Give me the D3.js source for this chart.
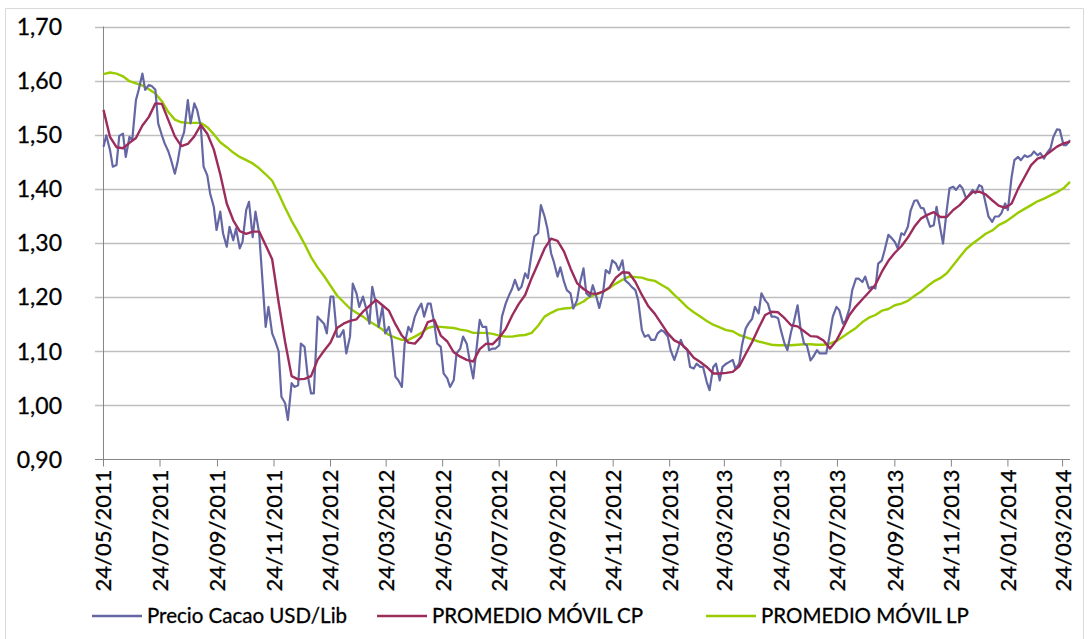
<!DOCTYPE html>
<html>
<head>
<meta charset="utf-8">
<script src="https://cdn.jsdelivr.net/npm/d3@7"></script>
<style>
  body { margin: 0; background: #fff; }
  svg { display: block; }
  text { font-family: Lato, "Liberation Sans", sans-serif; fill: #000; stroke: #000; stroke-width: 0.3px; }
</style>
</head>
<body>
<svg id="chart" width="1089" height="639"></svg>
<script>
// ---- data -------------------------------------------------------------
const seriesNames = ["Precio Cacao USD/Lib", "PROMEDIO MÓVIL CP", "PROMEDIO MÓVIL LP"];
const seriesColors = ["#6467a3", "#9c2c5c", "#99cc00"];

// x-axis tick labels (every two months)
const tickLabels = [
  "24/05/2011", "24/07/2011", "24/09/2011", "24/11/2011", "24/01/2012", "24/03/2012",
  "24/05/2012", "24/07/2012", "24/09/2012", "24/11/2012", "24/01/2013", "24/03/2013",
  "24/05/2013", "24/07/2013", "24/09/2013", "24/11/2013", "24/01/2014", "24/03/2014"
];

// y-axis tick values
const yTicks = [0.90, 1.00, 1.10, 1.20, 1.30, 1.40, 1.50, 1.60, 1.70];

const firstDay = "24/05/2011";
const lastDay = "01/04/2014";

// cocoa price, USD/lb, Tuesday and Friday quotes from 24/05/2011
const priceValues = [
  1.478, 1.499, 1.472, 1.441, 1.444, 1.498, 1.502, 1.459, 1.496, 1.490,
  1.564, 1.583, 1.613, 1.583, 1.592, 1.590, 1.583, 1.521, 1.499, 1.484,
  1.469, 1.453, 1.428, 1.450, 1.490, 1.505, 1.564, 1.521, 1.558, 1.546,
  1.515, 1.441, 1.425, 1.392, 1.367, 1.324, 1.358, 1.318, 1.293, 1.330,
  1.305, 1.327, 1.290, 1.302, 1.361, 1.376, 1.311, 1.358, 1.318, 1.244,
  1.145, 1.182, 1.133, 1.120, 1.100, 1.016, 1.004, 0.973, 1.041, 1.034,
  1.037, 1.114, 1.108, 1.059, 1.022, 1.022, 1.164, 1.158, 1.151, 1.133,
  1.201, 1.201, 1.127, 1.127, 1.139, 1.096, 1.127, 1.225, 1.207, 1.182,
  1.201, 1.182, 1.151, 1.219, 1.188, 1.145, 1.182, 1.133, 1.145, 1.121,
  1.053, 1.047, 1.034, 1.114, 1.145, 1.136, 1.164, 1.176, 1.188, 1.164,
  1.188, 1.188, 1.151, 1.114, 1.108, 1.059, 1.050, 1.034, 1.047, 1.096,
  1.105, 1.127, 1.114, 1.084, 1.050, 1.096, 1.158, 1.145, 1.145, 1.102,
  1.105, 1.105, 1.111, 1.164, 1.188, 1.201, 1.216, 1.232, 1.213, 1.219,
  1.244, 1.235, 1.281, 1.312, 1.318, 1.370, 1.349, 1.327, 1.281, 1.265,
  1.238, 1.255, 1.228, 1.213, 1.207, 1.179, 1.194, 1.225, 1.253, 1.207,
  1.201, 1.222, 1.200, 1.180, 1.207, 1.250, 1.244, 1.268, 1.262, 1.250,
  1.268, 1.231, 1.225, 1.219, 1.213, 1.194, 1.139, 1.127, 1.130, 1.121,
  1.121, 1.133, 1.139, 1.136, 1.127, 1.102, 1.084, 1.099, 1.121, 1.108,
  1.102, 1.071, 1.068, 1.077, 1.071, 1.071, 1.043, 1.028, 1.071, 1.077,
  1.046, 1.071, 1.077, 1.080, 1.084, 1.068, 1.077, 1.111, 1.142, 1.151,
  1.160, 1.182, 1.170, 1.207, 1.194, 1.188, 1.164, 1.164, 1.161, 1.139,
  1.114, 1.102, 1.136, 1.154, 1.185, 1.145, 1.114, 1.111, 1.083, 1.090,
  1.102, 1.096, 1.096, 1.096, 1.133, 1.164, 1.182, 1.176, 1.151, 1.157,
  1.179, 1.213, 1.234, 1.234, 1.228, 1.238, 1.216, 1.219, 1.216, 1.262,
  1.268, 1.287, 1.315, 1.310, 1.302, 1.290, 1.318, 1.315, 1.330, 1.360,
  1.378, 1.379, 1.365, 1.364, 1.345, 1.330, 1.333, 1.367, 1.327, 1.299,
  1.361, 1.401, 1.404, 1.398, 1.407, 1.401, 1.382, 1.389, 1.398, 1.392,
  1.407, 1.404, 1.373, 1.349, 1.339, 1.349, 1.349, 1.355, 1.373, 1.361,
  1.422, 1.453, 1.459, 1.453, 1.462, 1.459, 1.462, 1.469, 1.462, 1.466,
  1.456, 1.466, 1.475, 1.496, 1.510, 1.509, 1.481, 1.481, 1.490
];

// short-term moving average, weekly (Tuesdays) from 24/05/2011
const shortAvgValues = [
  1.546, 1.496, 1.477, 1.475, 1.485, 1.494, 1.517, 1.533, 1.558, 1.557,
  1.527, 1.497, 1.479, 1.483, 1.497, 1.518, 1.502, 1.473, 1.427, 1.373,
  1.342, 1.322, 1.317, 1.321, 1.321, 1.296, 1.270, 1.190, 1.117, 1.054,
  1.048, 1.049, 1.054, 1.084, 1.101, 1.116, 1.143, 1.151, 1.156, 1.159,
  1.173, 1.184, 1.195, 1.185, 1.175, 1.150, 1.129, 1.116, 1.114, 1.127,
  1.154, 1.158, 1.129, 1.118, 1.098, 1.090, 1.084, 1.081, 1.104, 1.114,
  1.113, 1.125, 1.141, 1.166, 1.187, 1.204, 1.235, 1.262, 1.290, 1.308,
  1.304, 1.284, 1.253, 1.226, 1.215, 1.207, 1.206, 1.210, 1.218, 1.236,
  1.246, 1.245, 1.228, 1.204, 1.183, 1.169, 1.151, 1.133, 1.120, 1.114,
  1.103, 1.088, 1.080, 1.071, 1.059, 1.059, 1.060, 1.062, 1.072, 1.095,
  1.117, 1.143, 1.167, 1.173, 1.172, 1.161, 1.148, 1.146, 1.137, 1.128,
  1.127, 1.120, 1.105, 1.120, 1.143, 1.167, 1.183, 1.196, 1.209, 1.223,
  1.247, 1.267, 1.282, 1.294, 1.310, 1.330, 1.345, 1.352, 1.357, 1.348,
  1.348, 1.361, 1.370, 1.383, 1.394, 1.395, 1.390, 1.379, 1.369, 1.365,
  1.373, 1.400, 1.422, 1.444, 1.456, 1.460, 1.469, 1.478, 1.484, 1.487
];

// long-term moving average, weekly (Tuesdays) from 24/05/2011
const longAvgValues = [
  1.612, 1.615, 1.613, 1.608, 1.599, 1.595, 1.591, 1.584, 1.576, 1.562,
  1.542, 1.528, 1.523, 1.522, 1.522, 1.522, 1.514, 1.501, 1.486, 1.477,
  1.467, 1.459, 1.453, 1.447, 1.438, 1.427, 1.415, 1.391, 1.365, 1.341,
  1.320, 1.298, 1.274, 1.255, 1.239, 1.221, 1.203, 1.191, 1.179, 1.171,
  1.164, 1.155, 1.148, 1.140, 1.130, 1.125, 1.121, 1.121, 1.127, 1.134,
  1.143, 1.146, 1.145, 1.144, 1.143, 1.140, 1.138, 1.134, 1.134, 1.134,
  1.132, 1.129, 1.127, 1.127, 1.129, 1.130, 1.134, 1.147, 1.164, 1.171,
  1.177, 1.179, 1.180, 1.186, 1.192, 1.201, 1.205, 1.210, 1.217, 1.225,
  1.232, 1.238, 1.237, 1.236, 1.232, 1.230, 1.223, 1.216, 1.204, 1.193,
  1.181, 1.172, 1.164, 1.156, 1.149, 1.144, 1.139, 1.137, 1.130, 1.126,
  1.122, 1.118, 1.115, 1.112, 1.111, 1.111, 1.111, 1.112, 1.113, 1.113,
  1.112, 1.112, 1.114, 1.119, 1.127, 1.135, 1.143, 1.154, 1.162, 1.167,
  1.175, 1.178, 1.185, 1.188, 1.193, 1.202, 1.210, 1.220, 1.229, 1.235,
  1.244, 1.259, 1.274, 1.289, 1.299, 1.308, 1.317, 1.323, 1.333, 1.339,
  1.347, 1.356, 1.363, 1.370, 1.377, 1.382, 1.388, 1.394, 1.401, 1.413
];

// ---- dates ------------------------------------------------------------
const parseDay = d3.timeParse("%d/%m/%Y");
const startDate = parseDay(firstDay);
const endDate = parseDay(lastDay);
const stopDate = d3.timeDay.offset(endDate, 1);

const priceDates = d3.timeDay.range(startDate, stopDate)
  .filter(d => d.getDay() === 2 || d.getDay() === 5);
const weekDates = d3.timeTuesday.range(startDate, stopDate);

const zip = (dates, vals) => d3.zip(dates, vals).map(([date, value]) => ({ date, value }));
const series = [
  zip(priceDates, priceValues),
  zip(weekDates, shortAvgValues),
  zip(weekDates, longAvgValues)
];

// ---- layout -----------------------------------------------------------
const plot = { left: 103.5, right: 1070, top: 26.5, bottom: 459.5 };
const svg = d3.select("#chart");

const x = d3.scaleTime().domain([startDate, endDate]).range([plot.left, plot.right]);
const y = d3.scaleLinear().domain([0.90, 1.70]).range([plot.bottom, plot.top]);
const fmt = v => d3.format(".2f")(v).replace(".", ",");

// chart frame
svg.append("path")
  .attr("d", "M5.5,645 V8.5 H1083.5 V645")
  .attr("fill", "none").attr("stroke", "#d9d9d9").attr("stroke-width", 1);

// horizontal gridlines (ticks extend left of the axis)
svg.append("g").selectAll("line").data(yTicks.filter(v => v > 0.9)).join("line")
  .attr("x1", 95).attr("x2", plot.right)
  .attr("y1", d => Math.round(y(d)) + 0.5).attr("y2", d => Math.round(y(d)) + 0.5)
  .attr("stroke", "#bfbfbf").attr("stroke-width", 1.3);

// y axis
svg.append("line")
  .attr("x1", plot.left).attr("x2", plot.left)
  .attr("y1", plot.top).attr("y2", plot.bottom)
  .attr("stroke", "#868686").attr("stroke-width", 1);

// x axis
svg.append("line")
  .attr("x1", 95).attr("x2", plot.right)
  .attr("y1", plot.bottom).attr("y2", plot.bottom)
  .attr("stroke", "#868686").attr("stroke-width", 1);

const tickDates = tickLabels.map(parseDay);
svg.append("g").selectAll("line").data(tickDates).join("line")
  .attr("x1", d => x(d)).attr("x2", d => x(d))
  .attr("y1", plot.bottom).attr("y2", plot.bottom + 7)
  .attr("stroke", "#868686").attr("stroke-width", 1);

// y tick labels
svg.append("g").selectAll("text").data(yTicks).join("text")
  .attr("x", 62).attr("y", d => y(d)).attr("dy", "0.36em")
  .attr("text-anchor", "end").attr("font-size", 23)
  .text(fmt);

// x tick labels, rotated
svg.append("g").selectAll("text").data(tickLabels).join("text")
  .attr("transform", d => `translate(${x(parseDay(d))},${plot.bottom + 10}) rotate(-90)`)
  .attr("dy", "0.36em").attr("text-anchor", "end").attr("font-size", 22)
  .text(d => d);

// series lines
const line = d3.line().x(d => x(d.date)).y(d => y(d.value));
const widths = [2.2, 2.4, 2.4];
const drawOrder = [2, 0, 1];
drawOrder.forEach(i => {
  svg.append("path")
    .datum(series[i])
    .attr("fill", "none")
    .attr("stroke", seriesColors[i])
    .attr("stroke-width", widths[i])
    .attr("stroke-linejoin", "round")
    .attr("d", line);
});

// legend
const legendStarts = [92, 377, 706];
const legendY = 616;
const legend = svg.append("g").selectAll("g").data(seriesNames).join("g")
  .attr("transform", (d, i) => `translate(${legendStarts[i]},${legendY})`);
legend.append("line")
  .attr("x1", 0).attr("x2", 50).attr("y1", 0).attr("y2", 0)
  .attr("stroke", (d, i) => seriesColors[i]).attr("stroke-width", 2.5);
legend.append("text")
  .attr("x", 55).attr("dy", "0.36em").attr("font-size", 20.5)
  .text(d => d);
</script>
</body>
</html>
